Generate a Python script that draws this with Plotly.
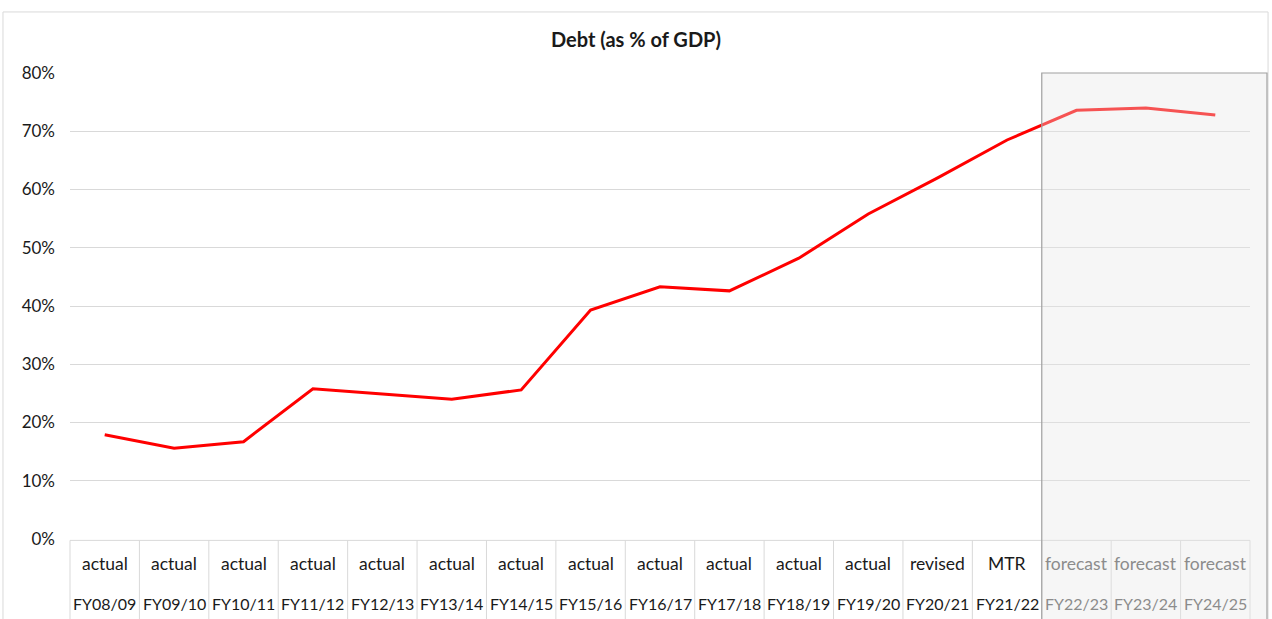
import plotly.graph_objects as go

years = ["FY08/09", "FY09/10", "FY10/11", "FY11/12", "FY12/13", "FY13/14", "FY14/15",
         "FY15/16", "FY16/17", "FY17/18", "FY18/19", "FY19/20", "FY20/21", "FY21/22",
         "FY22/23", "FY23/24", "FY24/25"]
status = ["actual"] * 12 + ["revised", "MTR", "forecast", "forecast", "forecast"]
debt_pct = [17.9, 15.6, 16.7, 25.8, 24.9, 24.0, 25.6, 39.3, 43.3, 42.6, 48.2,
            55.8, 62.0, 68.5, 73.6, 74.0, 72.8]
y_ticks = [0, 10, 20, 30, 40, 50, 60, 70, 80]

FONT = "Lato"
n = len(years)
xs = list(range(n))

fig = go.Figure()
fig.add_trace(go.Scatter(
    x=xs, y=[v / 100 for v in debt_pct], mode="lines",
    line=dict(color="#ff0000", width=3), hoverinfo="skip", showlegend=False))

shapes = []
# outer chart border
shapes.append(dict(type="rect", xref="paper", yref="paper", x0=-0.0568, x1=1.0153,
                   y0=-0.3, y1=1.131, line=dict(color="#d9d9d9", width=1), layer="below"))
# table top line
shapes.append(dict(type="line", xref="paper", yref="paper", x0=0, x1=1, y0=-0.003, y1=-0.003,
                   line=dict(color="#d9d9d9", width=1)))
# vertical table lines
for i in range(n + 1):
    px = i / n
    shapes.append(dict(type="line", xref="paper", yref="paper", x0=px, x1=px, y0=-0.2, y1=-0.003,
                       line=dict(color="#d9d9d9", width=1)))
# forecast box overlay
first_fc = status.index("forecast")
shapes.append(dict(type="rect", xref="paper", yref="paper", x0=first_fc / n, x1=1.0144,
                   y0=-0.25, y1=1.0, fillcolor="rgba(230,230,230,0.36)",
                   line=dict(color="#a0a0a0", width=1.2), layer="above"))

annotations = []
for i, (s, yr) in enumerate(zip(status, years)):
    col = "#8c8c8c" if s == "forecast" else "#1a1a1a"
    annotations.append(dict(x=i, y=-0.0536, xref="x", yref="paper", text=s, showarrow=False,
                            font=dict(family=FONT, size=17.5, color=col), yanchor="middle"))
    annotations.append(dict(x=i, y=-0.139, xref="x", yref="paper", text=yr, showarrow=False,
                            font=dict(family=FONT, size=16, color=col), yanchor="middle"))

fig.update_layout(
    width=1272, height=619,
    margin=dict(l=70, r=22, t=73, b=80),
    paper_bgcolor="white", plot_bgcolor="white",
    title=dict(text="<b>Debt (as % of GDP)</b>", x=0.5, xanchor="center", y=1 - 40 / 619,
               yanchor="middle", font=dict(family=FONT, size=20, color="#1a1a1a")),
    xaxis=dict(range=[-0.5, n - 0.5], showgrid=False, showticklabels=False, zeroline=False,
               showline=False, ticks=""),
    yaxis=dict(range=[0, 0.8], tickvals=[t / 100 for t in y_ticks],
               ticktext=[f"{t}%" for t in y_ticks], showgrid=True, gridcolor="#d9d9d9",
               gridwidth=1, zeroline=False, showline=False, ticks="",
               tickfont=dict(family=FONT, size=17, color="#1a1a1a"), ticklabelstandoff=14),
    shapes=shapes, annotations=annotations,
    showlegend=False,
)

fig.write_html("out.html", config={"displayModeBar": False},
               post_script="document.body.style.margin='0';document.body.style.overflow='hidden';")
